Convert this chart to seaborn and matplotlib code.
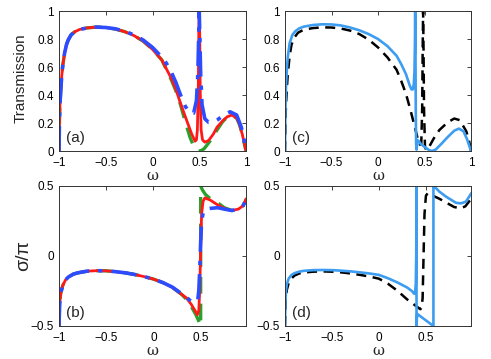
import numpy as np
import matplotlib
matplotlib.use("Agg")
import matplotlib.pyplot as plt
import seaborn as sns

# ---------------- data ----------------
# panel (a): transmission, three models
w_a_red = [-1.0, -0.995, -0.99, -0.98, -0.97, -0.96, -0.94, -0.92, -0.9, -0.87, -0.83, -0.78, -0.7, -0.6,
           -0.5, -0.4, -0.3, -0.2, -0.1, 0.0, 0.1, 0.15, 0.2, 0.25, 0.3, 0.37, 0.42, 0.455, 0.47, 0.48,
           0.49, 0.495, 0.5, 0.505, 0.51, 0.52, 0.535, 0.56, 0.6, 0.65, 0.69, 0.75, 0.8, 0.85, 0.9, 0.93,
           0.96, 0.98, 1.0]
t_a_red = [0.0, 0.22, 0.33, 0.45, 0.54, 0.61, 0.70, 0.76, 0.795, 0.83, 0.852, 0.868, 0.879, 0.885,
           0.882, 0.872, 0.853, 0.825, 0.785, 0.726, 0.65, 0.585, 0.52, 0.44, 0.34, 0.21, 0.12, 0.07, 0.08, 0.15,
           0.45, 0.85, 1.0, 0.85, 0.45, 0.15, 0.08, 0.063, 0.075, 0.12, 0.17, 0.215, 0.245, 0.257, 0.235, 0.19,
           0.12, 0.06, 0.0]

w_a_green = [-1.0, -0.995, -0.99, -0.98, -0.97, -0.96, -0.94, -0.92, -0.9, -0.87, -0.83, -0.78, -0.7, -0.6,
             -0.5, -0.4, -0.3, -0.2, -0.1, 0.0, 0.1, 0.15, 0.2, 0.25, 0.3, 0.35, 0.4, 0.43, 0.46, 0.48, 0.5,
             0.52, 0.55, 0.58, 0.62, 0.66, 0.7, 0.75, 0.8, 0.85, 0.9, 0.93, 0.96, 0.98, 1.0]
t_a_green = [0.0, 0.22, 0.33, 0.45, 0.54, 0.61, 0.70, 0.76, 0.795, 0.83, 0.852, 0.868, 0.879, 0.885,
             0.882, 0.872, 0.853, 0.825, 0.785, 0.726, 0.65, 0.58, 0.51, 0.43, 0.33, 0.21, 0.10, 0.05, 0.015,
             0.003, 0.0, 0.003, 0.015, 0.04, 0.075, 0.12, 0.16, 0.21, 0.243, 0.256, 0.235, 0.19, 0.12, 0.06, 0.0]

w_a_blue = [-1.0, -0.995, -0.99, -0.98, -0.97, -0.96, -0.94, -0.92, -0.9, -0.87, -0.83, -0.78, -0.7, -0.6,
            -0.5, -0.4, -0.3, -0.2, -0.1, 0.0, 0.1, 0.15, 0.2, 0.25, 0.3, 0.35, 0.4, 0.44, 0.47, 0.485, 0.5,
            0.515, 0.53, 0.56, 0.6, 0.65, 0.7, 0.76, 0.83, 0.9, 0.95, 0.98, 1.0]
t_a_blue = [0.0, 0.22, 0.33, 0.45, 0.54, 0.61, 0.70, 0.76, 0.795, 0.83, 0.852, 0.868, 0.879, 0.885,
            0.882, 0.873, 0.856, 0.83, 0.793, 0.74, 0.67, 0.625, 0.565, 0.49, 0.40, 0.32, 0.27, 0.27, 0.36,
            0.55, 1.0, 0.55, 0.33, 0.23, 0.205, 0.205, 0.225, 0.257, 0.28, 0.257, 0.17, 0.08, 0.0]

# panel (b): phase sigma/pi
w_b_red = [-1.0, -0.995, -0.99, -0.98, -0.96, -0.93, -0.9, -0.85, -0.8, -0.7, -0.6, -0.5, -0.4, -0.3,
           -0.2, -0.1, 0.0, 0.1, 0.2, 0.3, 0.35, 0.4, 0.44, 0.465, 0.48, 0.49, 0.5, 0.51, 0.525, 0.545,
           0.6, 0.68, 0.75, 0.83, 0.9, 0.95, 0.985]
s_b_red = [-0.5, -0.38, -0.31, -0.26, -0.21, -0.17, -0.15, -0.13, -0.12, -0.108, -0.105, -0.106, -0.112,
           -0.12, -0.132, -0.147, -0.165, -0.19, -0.225, -0.275, -0.30, -0.345, -0.39, -0.42, -0.39, -0.25,
           0.05, 0.30, 0.39, 0.415, 0.40, 0.365, 0.34, 0.325, 0.335, 0.36, 0.41]

w_b_green = [-1.0, -0.995, -0.99, -0.98, -0.96, -0.93, -0.9, -0.85, -0.8, -0.7, -0.6, -0.5, -0.4, -0.3,
             -0.2, -0.1, 0.0, 0.1, 0.2, 0.3, 0.35, 0.4, 0.45, 0.48, 0.5, 0.5, 0.52, 0.55, 0.6, 0.65, 0.7,
             0.75, 0.83, 0.9, 0.95, 0.985]
s_b_green = [-0.5, -0.38, -0.31, -0.26, -0.21, -0.17, -0.15, -0.13, -0.12, -0.108, -0.105, -0.106, -0.112,
             -0.12, -0.132, -0.147, -0.165, -0.19, -0.225, -0.275, -0.31, -0.36, -0.42, -0.465, -0.5, 0.5,
             0.47, 0.44, 0.41, 0.39, 0.37, 0.345, 0.325, 0.335, 0.36, 0.41]

w_b_blue = [-1.0, -0.995, -0.99, -0.98, -0.96, -0.93, -0.9, -0.85, -0.8, -0.7, -0.6, -0.5, -0.4, -0.3,
            -0.2, -0.1, 0.0, 0.1, 0.2, 0.3, 0.35, 0.4, 0.45, 0.47, 0.48, 0.49, 0.5, 0.51, 0.53, 0.56, 0.6,
            0.68, 0.75, 0.83, 0.9, 0.95, 0.985]
s_b_blue = [-0.5, -0.38, -0.31, -0.26, -0.21, -0.17, -0.15, -0.13, -0.12, -0.108, -0.105, -0.106, -0.112,
            -0.12, -0.132, -0.147, -0.165, -0.19, -0.222, -0.27, -0.295, -0.325, -0.33, -0.31, -0.25, -0.1,
            0.1, 0.25, 0.32, 0.335, 0.34, 0.345, 0.335, 0.325, 0.335, 0.36, 0.41]

# panel (c): transmission
w_c_black = [-1.0, -0.995, -0.99, -0.98, -0.97, -0.95, -0.93, -0.9, -0.86, -0.8, -0.7, -0.6, -0.5, -0.4,
             -0.3, -0.2, -0.1, 0.0, 0.1, 0.2, 0.25, 0.3, 0.35, 0.4, 0.43, 0.45, 0.465, 0.475, 0.48, 0.485,
             0.49, 0.495, 0.505, 0.52, 0.55, 0.6, 0.66, 0.75, 0.82, 0.88, 0.95, 0.98, 1.0]
t_c_black = [0.0, 0.2, 0.32, 0.45, 0.55, 0.68, 0.76, 0.81, 0.845, 0.866, 0.878, 0.883, 0.882, 0.875,
             0.86, 0.835, 0.795, 0.74, 0.67, 0.58, 0.50, 0.41, 0.29, 0.16, 0.08, 0.045, 0.05, 0.3, 0.7, 1.0,
             0.7, 0.3, 0.03, 0.005, 0.03, 0.09, 0.15, 0.205, 0.232, 0.22, 0.14, 0.07, 0.0]

w_c_blue = [-1.0, -0.995, -0.99, -0.98, -0.97, -0.95, -0.92, -0.89, -0.85, -0.8, -0.7, -0.6, -0.5, -0.4,
            -0.3, -0.2, -0.1, 0.0, 0.1, 0.2, 0.25, 0.3, 0.34, 0.36, 0.375, 0.385, 0.392, 0.397, 0.4, 0.403,
            0.406, 0.41, 0.415, 0.42, 0.43, 0.44, 0.46, 0.5, 0.55, 0.58, 0.62, 0.68, 0.75, 0.82, 0.87, 0.92,
            0.96, 1.0]
t_c_blue = [0.0, 0.3, 0.45, 0.58, 0.67, 0.77, 0.83, 0.855, 0.875, 0.888, 0.9, 0.905, 0.904, 0.897,
            0.882, 0.862, 0.835, 0.80, 0.75, 0.68, 0.62, 0.55, 0.47, 0.44, 0.44, 0.48, 0.56, 0.75, 1.0, 0.7,
            0.3, 0.05, 0.01, 0.05, 0.075, 0.07, 0.05, 0.03, 0.006, 0.0, 0.01, 0.05, 0.1, 0.145, 0.16, 0.14,
            0.08, 0.0]

# panel (d): phase
w_d_black = [-1.0, -0.995, -0.99, -0.98, -0.96, -0.93, -0.9, -0.85, -0.8, -0.7, -0.6, -0.5, -0.4, -0.3,
             -0.2, -0.1, 0.0, 0.1, 0.2, 0.3, 0.35, 0.4, 0.44, 0.455, 0.465, 0.475, 0.485, 0.5, 0.52, 0.56,
             0.64, 0.72, 0.8, 0.87, 0.92, 0.96, 0.985]
s_d_black = [-0.5, -0.36, -0.29, -0.24, -0.19, -0.16, -0.14, -0.125, -0.118, -0.112, -0.11, -0.112, -0.117,
             -0.125, -0.135, -0.147, -0.162, -0.2, -0.25, -0.31, -0.335, -0.36, -0.38, -0.37, -0.3, 0.0,
             0.3, 0.43, 0.45, 0.435, 0.41, 0.38, 0.35, 0.34, 0.355, 0.39, 0.41]

w_d_blue = [-1.0, -0.995, -0.99, -0.98, -0.96, -0.93, -0.9, -0.85, -0.8, -0.7, -0.6, -0.5, -0.4, -0.3,
            -0.2, -0.1, 0.0, 0.1, 0.2, 0.3, 0.35, 0.375, 0.385, 0.392, 0.397, 0.4, 0.4, 0.405, 0.41, 0.43,
            0.47, 0.52, 0.56, 0.58, 0.58, 0.6, 0.643, 0.714, 0.82, 0.873, 0.926, 0.985]
s_d_blue = [-0.5, -0.33, -0.25, -0.2, -0.16, -0.135, -0.123, -0.112, -0.106, -0.101, -0.1, -0.101, -0.105,
            -0.11, -0.117, -0.125, -0.135, -0.16, -0.19, -0.225, -0.25, -0.27, -0.26, -0.2, 0.0, 0.5, -0.5,
            -0.43, -0.415, -0.425, -0.445, -0.47, -0.49, -0.5, 0.5, 0.49, 0.46, 0.424, 0.38, 0.376, 0.388,
            0.45]

t_ticks = [0, 0.2, 0.4, 0.6, 0.8, 1]
t_ticklabels = ["0", "0.2", "0.4", "0.6", "0.8", "1"]
s_ticks = [-0.5, 0, 0.5]
s_ticklabels = ["\u22120.5", "0", "0.5"]
w_ticks = [-1, -0.5, 0, 0.5, 1]
w_ticklabels = ["\u22121", "\u22120.5", "0", "0.5", "1"]

# ---------------- style ----------------
sns.set_style("white")
plt.rcParams["font.family"] = ["Liberation Sans", "DejaVu Sans"]

RED = "#ff1a1a"
GREEN = "#2ca02c"
BLUE = "#2d4cff"
LBLUE = "#3d9df0"

fig = plt.figure(figsize=(4.91, 3.59), dpi=100)
W, H = 491.0, 359.0


def make_ax(x0, y0, x1, y1):
    return fig.add_axes([x0 / W, 1 - y1 / H, (x1 - x0) / W, (y1 - y0) / H])


ax_a = make_ax(59, 11, 246, 151)
ax_c = make_ax(285, 11, 471, 151)
ax_b = make_ax(59, 186, 246, 326)
ax_d = make_ax(285, 186, 471, 326)


def line(ax, x, y, **kw):
    sns.lineplot(x=x, y=y, ax=ax, sort=False, estimator=None, legend=False, **kw)


dashdot = (0, (7, 2.5, 1.2, 2.5))
dashed = (0, (5, 3))
kdash = (0, (4, 2.6))

line(ax_a, w_a_green, t_a_green, color=GREEN, lw=2.4, linestyle=dashed)
line(ax_a, w_a_red, t_a_red, color=RED, lw=2.0)
line(ax_a, w_a_blue, t_a_blue, color=BLUE, lw=2.6, linestyle=dashdot)

line(ax_b, w_b_green, s_b_green, color=GREEN, lw=2.4, linestyle=dashed)
line(ax_b, w_b_red, s_b_red, color=RED, lw=2.0)
line(ax_b, w_b_blue, s_b_blue, color=BLUE, lw=2.6, linestyle=dashdot)

line(ax_c, w_c_black, t_c_black, color="black", lw=1.8, linestyle=kdash)
line(ax_c, w_c_blue, t_c_blue, color=LBLUE, lw=1.9)

line(ax_d, w_d_black, s_d_black, color="black", lw=1.8, linestyle=kdash)
line(ax_d, w_d_blue, s_d_blue, color=LBLUE, lw=1.9)

for ax, tag in [(ax_a, "(a)"), (ax_b, "(b)"), (ax_c, "(c)"), (ax_d, "(d)")]:
    ax.set_xticks(w_ticks)
    ax.set_xticklabels(w_ticklabels)
    if ax in (ax_a, ax_c):
        ax.set_xlim(-1, 1)
        ax.set_ylim(0, 1)
        ax.set_yticks(t_ticks)
        ax.set_yticklabels(t_ticklabels)
    else:
        ax.set_xlim(-1, 0.98)
        ax.set_ylim(-0.5, 0.5)
        ax.set_yticks(s_ticks)
        ax.set_yticklabels(s_ticklabels)
    ax.tick_params(direction="in", top=True, right=True, length=3, width=0.6,
                   labelsize=8.5, colors="#222222", labelcolor="black")
    ax.tick_params(axis="x", pad=4.5)
    ax.tick_params(axis="y", pad=3.5)
    for sp in ax.spines.values():
        sp.set_color("#333333")
        sp.set_linewidth(0.7)
    ax.set_xlabel("\u03c9", family=["DejaVu Serif"], fontsize=10.5)
    ax.xaxis.label.set_va("center")
    ax.xaxis.set_label_coords(0.5, -0.18)
    ax.text(0.035, 0.045, tag, transform=ax.transAxes, fontsize=11, ha="left", va="bottom")
    ax.set_ylabel("")

ax_a.set_ylabel("Transmission", fontsize=11)
ax_a.yaxis.set_label_coords(-0.166, 0.52)
ax_b.set_ylabel("\u03c3/\u03c0", fontsize=14)
ax_b.yaxis.set_label_coords(-0.145, 0.5)

fig.savefig("out.png", dpi=100)
